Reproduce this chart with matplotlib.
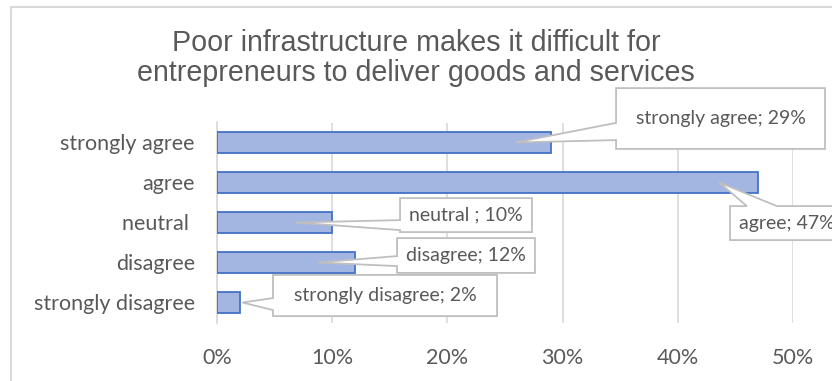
import matplotlib
matplotlib.use("Agg")
import matplotlib.pyplot as plt
from matplotlib.patches import Polygon, Rectangle
from matplotlib.ticker import PercentFormatter

# Survey answers, bottom to top
categories = ["strongly disagree", "disagree", "neutral ", "agree", "strongly agree"]
shares = [0.02, 0.12, 0.10, 0.47, 0.29]
callout_texts = ["strongly disagree; 2%", "disagree; 12%", "neutral ; 10%",
                 "agree; 47%", "strongly agree; 29%"]

title = "Poor infrastructure makes it difficult for\nentrepreneurs to deliver goods and services"

# callout layout: box (x0, x1, y0, y1), tail side, tail base, tip x offset from bar end
callout_boxes = [
    (0.0486, 0.2431, -0.34, 0.69),
    (0.1563, 0.2760, 0.74, 1.61),
    (0.1589, 0.2734, 1.76, 2.61),
    (0.4453, 0.5420, 1.56, 2.41),
    (0.3464, 0.5278, 3.84, 5.36),
]
tail_side = ["left", "left", "left", "top", "left"]
tail_base = [(-0.19, 0.11), (0.91, 1.16), (1.81, 2.06), (0.460, 0.486), (4.06, 4.49)]
tip_dx = [0.002, -0.033, -0.032, -0.034, -0.031]

grey_text = "#595959"
label_font = "Lato"

fig = plt.figure(figsize=(8.32, 3.81), dpi=100)
ax = fig.add_axes([217 / 832, 1 - 322.5 / 381, 576 / 832, 200 / 381])

# outer chart frame
fig.patches.append(Rectangle((11 / 832, -0.1), 1.0, 1 - 7 / 381 + 0.1,
                             transform=fig.transFigure, fill=False,
                             edgecolor="#d9d9d9", linewidth=1.5))

ypos = list(range(len(categories)))
ax.barh(ypos, shares, height=0.525, color="#a3b6e2", edgecolor="#4472c4",
        linewidth=1.3, zorder=3)

ax.set_xlim(0, 0.5)
ax.set_ylim(-0.5, 4.5)
ax.set_xticks([0, 0.1, 0.2, 0.3, 0.4, 0.5])
ax.xaxis.set_major_formatter(PercentFormatter(1.0, decimals=0))
ax.set_yticks(ypos)
ax.set_yticklabels(categories)
ax.grid(axis="x", color="#d9d9d9", linewidth=1.2, zorder=0)
ax.set_axisbelow(True)
for s in ["top", "right", "bottom"]:
    ax.spines[s].set_visible(False)
ax.spines["left"].set_color("#d9d9d9")
ax.spines["left"].set_linewidth(1.2)
ax.tick_params(axis="both", length=0, colors=grey_text, labelsize=15.5)
ax.tick_params(axis="y", pad=16)
ax.tick_params(axis="x", pad=18)
for lbl in ax.get_xticklabels() + ax.get_yticklabels():
    lbl.set_fontfamily(label_font)

fig.text(0.5, 1 - 58 / 381, title, ha="center", va="center", fontsize=20.6,
         color=grey_text, family="Liberation Sans", linespacing=1.05)

# data callouts with wedge tails pointing into each bar
for i in range(len(shares)):
    x0, x1, y0, y1 = callout_boxes[i]
    b0, b1 = tail_base[i]
    tip = (shares[i] + tip_dx[i], ypos[i])
    if tail_side[i] == "left":
        pts = [(x0, y1), (x1, y1), (x1, y0), (x0, y0), (x0, b0), tip, (x0, b1)]
    else:
        pts = [(x0, y1), (b0, y1), tip, (b1, y1), (x1, y1), (x1, y0), (x0, y0)]
    ax.add_patch(Polygon(pts, closed=True, facecolor="white", edgecolor="#bfbfbf",
                         linewidth=1.3, zorder=5, clip_on=False))
    tx = (x0 + x1) / 2 if i != 3 else x0 + 0.0075
    ax.text(tx, (y0 + y1) / 2, callout_texts[i], ha="center" if i != 3 else "left",
            va="center", fontsize=14, color=grey_text, family=label_font,
            zorder=6, clip_on=False)

fig.savefig("out.png", dpi=100)
